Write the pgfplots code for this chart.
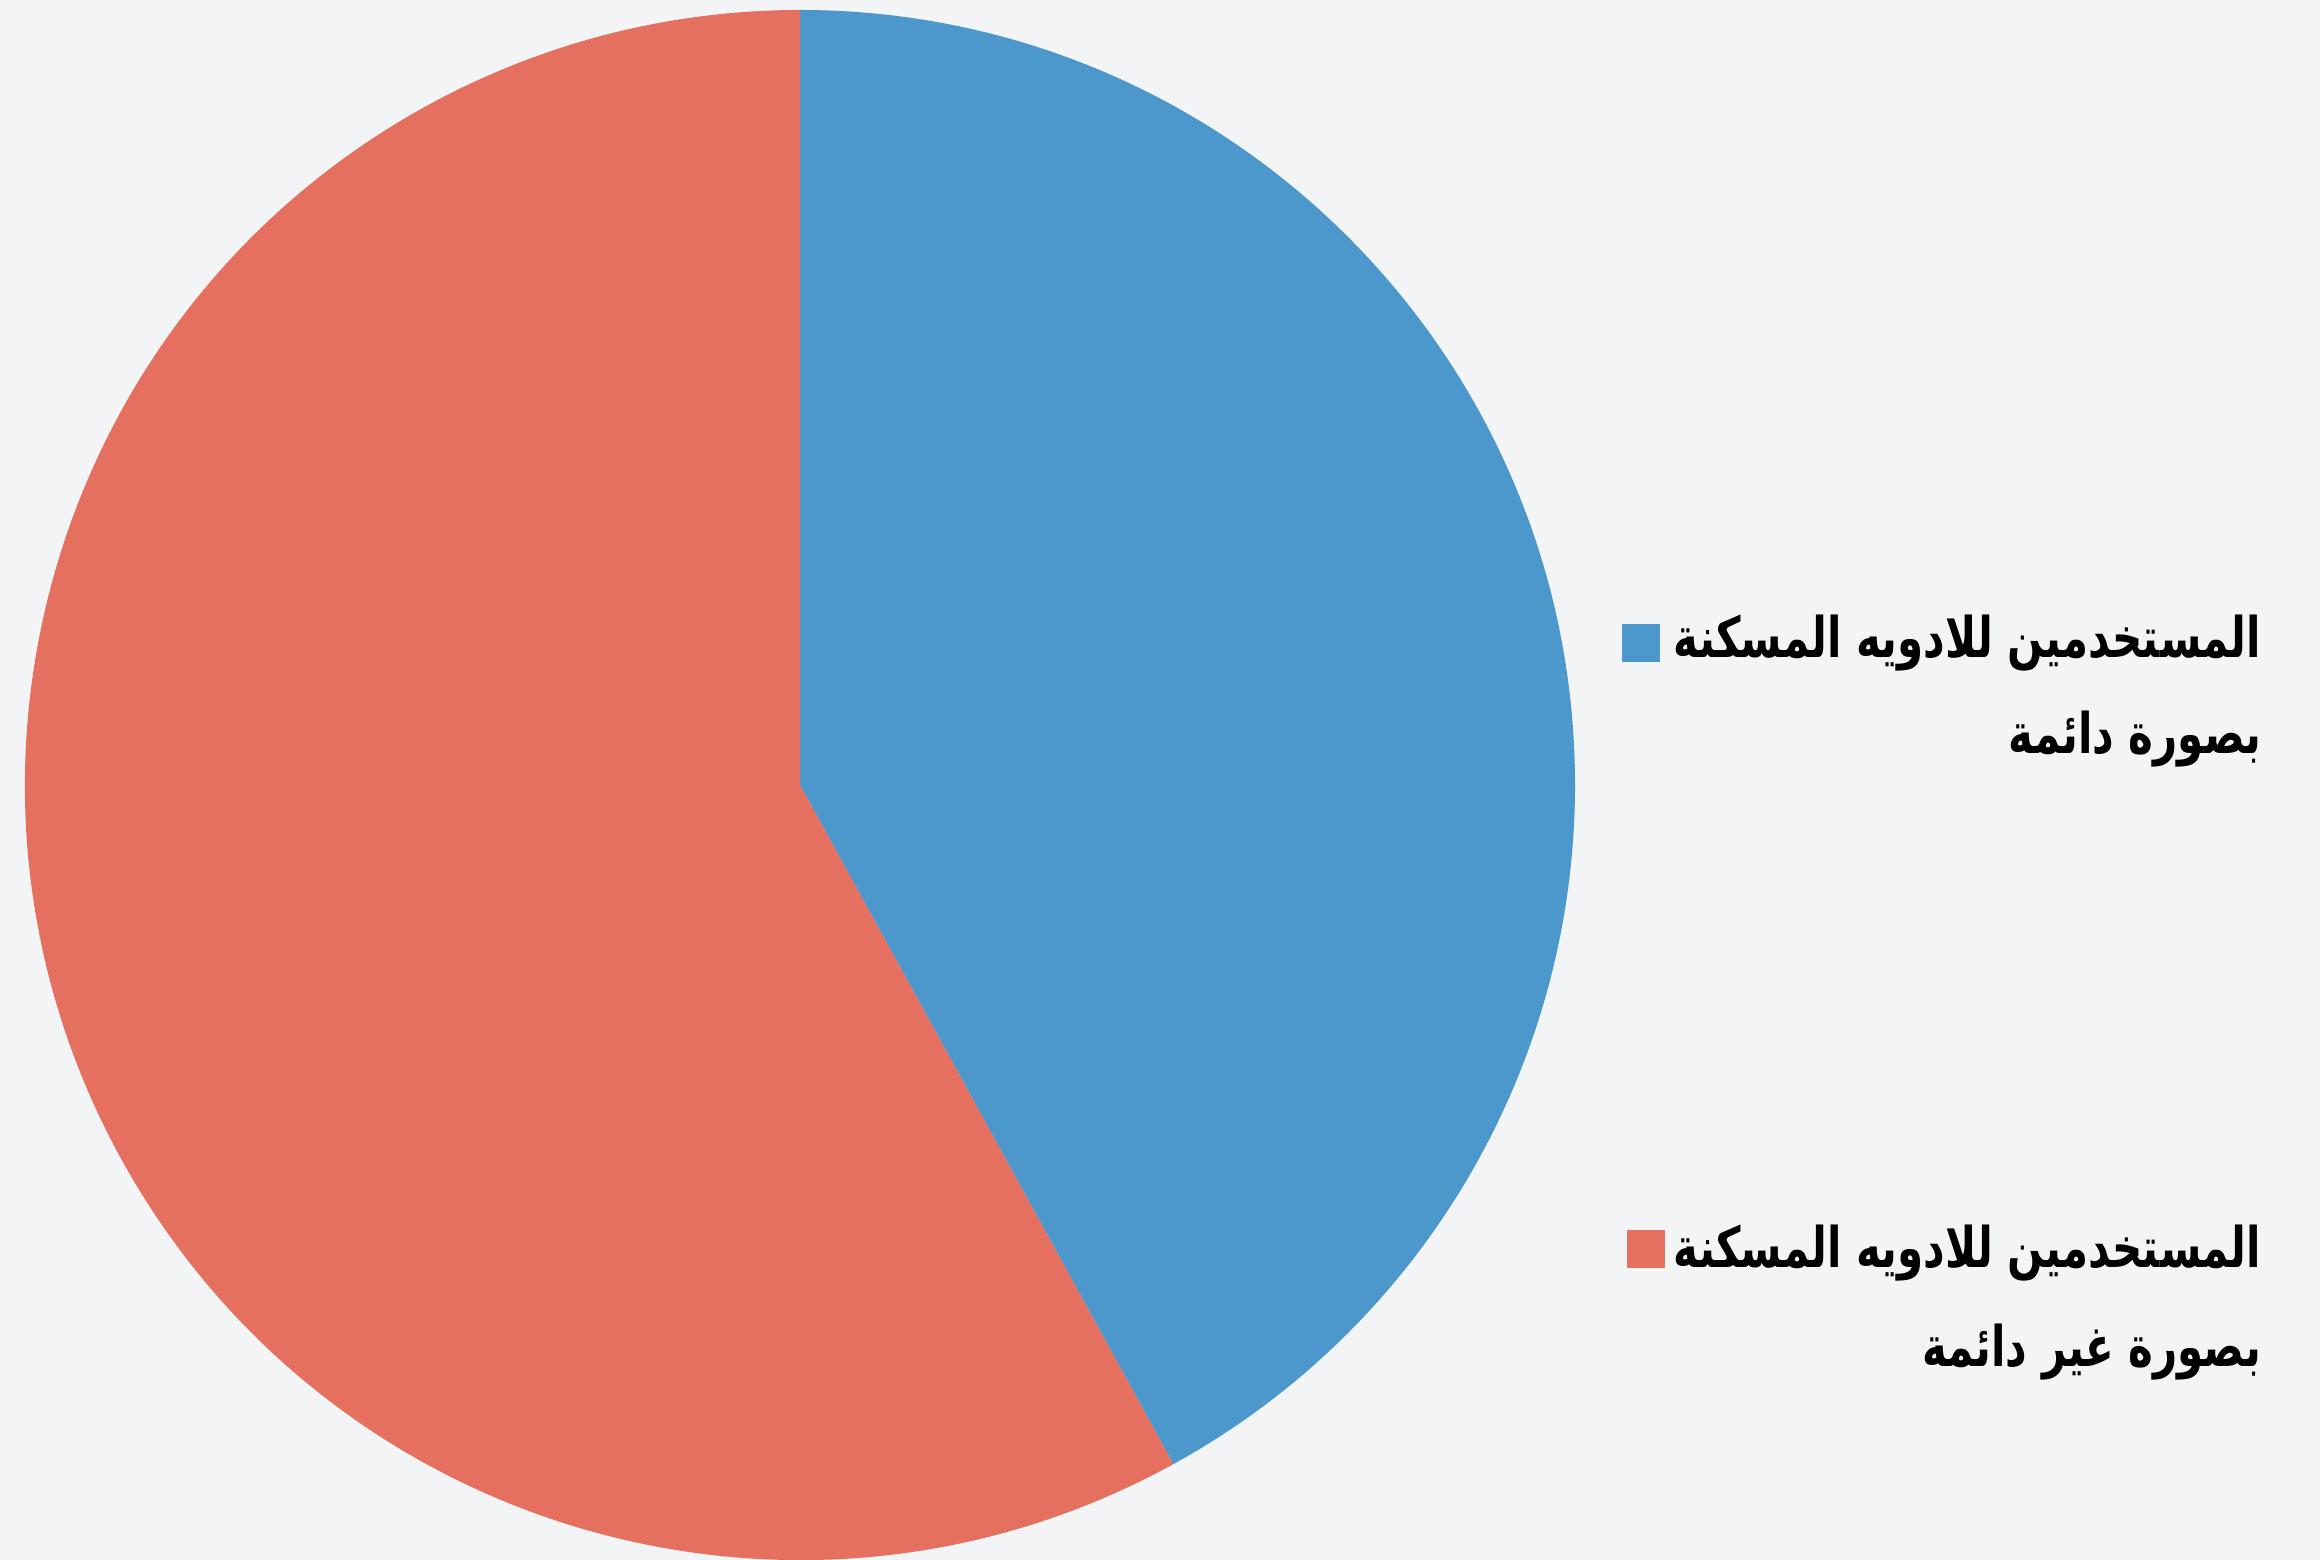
\documentclass[border=0pt]{standalone}
\usepackage{pgfplots}
\pgfplotsset{compat=1.18}
\usepackage{pgfplotstable}
\usepackage{fontspec}
\newfontfamily\arabicfont[Script=Arabic,FakeStretch=0.75]{DejaVu Sans}
\TeXXeTstate=1
\definecolor{pieblue}{RGB}{76,151,204}
\definecolor{piered}{RGB}{229,112,96}
\definecolor{bgc}{RGB}{242,244,245}
\pgfplotstableread{
share
42
58
}\piedata
\begin{document}%
\begin{tikzpicture}
\pgfplotstablegetelem{0}{share}\of\piedata
\pgfmathsetmacro\angA{3.6*\pgfplotsretval}
\pgfplotstablegetelem{1}{share}\of\piedata
\pgfmathsetmacro\angB{3.6*\pgfplotsretval}
\pgfmathsetmacro\angC{90-\angA}
\fill[bgc] (0pt,0pt) rectangle (580pt,390pt);
\begin{axis}[
  at={(200pt,193.75pt)}, anchor=center,
  scale only axis, width=387.5pt, height=387.5pt,
  xmin=-1, xmax=1, ymin=-1, ymax=1,
  hide axis, clip=false,
]
\fill[pieblue] (axis cs:0,0) -- (axis cs:0,1) arc[start angle=90, delta angle=-\angA, radius=193.75pt] -- cycle;
\fill[piered] (axis cs:0,0) -- ++(\angC:193.75pt) arc[start angle=\angC, delta angle=-\angB, radius=193.75pt] -- cycle;
\end{axis}
\tikzset{lg/.style={anchor=base east, inner sep=0pt, font=\arabicfont\bfseries\fontsize{14}{17}\selectfont}}
\fill[pieblue] (405.5pt,224.5pt) rectangle (415pt,234pt);
\node[lg] at (565.5pt,225.5pt) {\beginR المستخدمين للادويه المسكنة\endR};
\node[lg] at (565.5pt,201.5pt) {\beginR بصورة دائمة\endR};
\fill[piered] (406.75pt,73pt) rectangle (416.25pt,82.5pt);
\node[lg] at (565.5pt,73pt) {\beginR المستخدمين للادويه المسكنة\endR};
\node[lg] at (565.5pt,48.25pt) {\beginR بصورة غير دائمة\endR};
\pgfresetboundingbox
\path[use as bounding box] (0pt,0pt) rectangle (580pt,390pt);
\end{tikzpicture}%
\end{document}
